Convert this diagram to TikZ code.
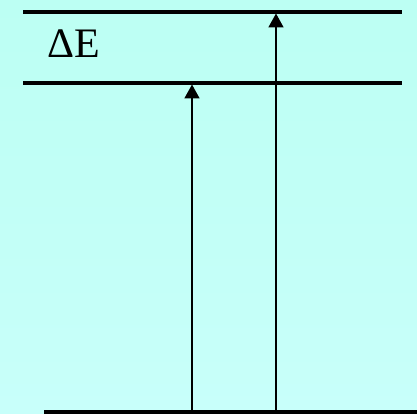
\documentclass[tikz,border=0pt]{standalone}
\usepackage{fontspec}
\setmainfont{Liberation Serif}
\usetikzlibrary{arrows.meta}
\begin{document}
\begin{tikzpicture}[x=1pt,y=1pt,
  level/.style={line width=3.2pt},
  trans/.style={line width=1.8pt,-{Triangle[width=15pt,length=14pt]}}]
\shade[top color={rgb,255:red,188;green,255;blue,243},bottom color={rgb,255:red,200;green,255;blue,250}] (0,0) rectangle (417,413);
\useasboundingbox (0,0) rectangle (417,413);
% levels (y = 413 - pixel y)
\coordinate (t1) at (23,401);
\coordinate (t2) at (402,401);
\coordinate (m1) at (23,330);
\coordinate (m2) at (402,330);
\coordinate (b1) at (44,1);
\coordinate (b2) at (417,1);
\draw[level] (t1) -- (t2);
\draw[level] (m1) -- (m2);
\draw[level] (b1) -- (b2);
% arrows
\coordinate (a1s) at (192,2);
\coordinate (a1e) at (192,328.5);
\coordinate (a2s) at (276,2);
\coordinate (a2e) at (276,399.5);
\draw[trans] (a1s) -- (a1e);
\draw[trans] (a2s) -- (a2e);
\node[font=\fontsize{42}{42}\selectfont,anchor=base west,inner sep=0pt] (dE) at (47.5,355.5) {ΔE};
\end{tikzpicture}
\end{document}
